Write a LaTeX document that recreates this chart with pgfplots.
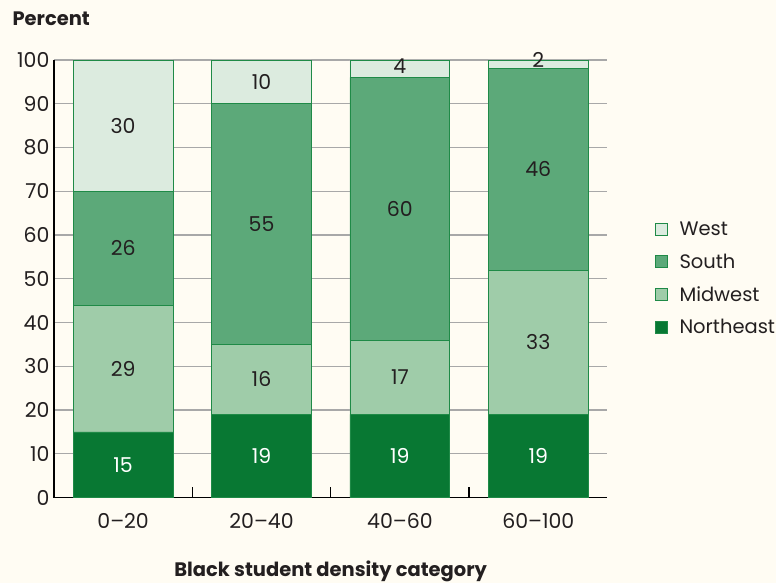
\documentclass[border=0pt]{standalone}
\usepackage{fontspec}
\setmainfont{Poppins}
\usepackage{pgfplots}
\pgfplotsset{compat=1.18}
\usepackage{pgfplotstable}

\definecolor{bg}{HTML}{FFFCF3}
\definecolor{west}{HTML}{DCEBDF}
\definecolor{south}{HTML}{5CA979}
\definecolor{midwest}{HTML}{9FCCA9}
\definecolor{northeast}{HTML}{087833}
\definecolor{edge}{HTML}{1F8A47}
\definecolor{txt}{HTML}{231F20}
\definecolor{gridc}{HTML}{A8A8A8}

% x = category index, one table per region
\pgfplotstableread{
x y
0 15
1 19
2 19
3 19
}\northeastdata
\pgfplotstableread{
x y
0 29
1 16
2 17
3 33
}\midwestdata
\pgfplotstableread{
x y
0 26
1 55
2 60
3 46
}\southdata
\pgfplotstableread{
x y
0 30
1 10
2 4
3 2
}\westdata

% label positions (segment centres)
\pgfplotstableread{
x y label
0 7.5 15
1 9.5 19
2 9.5 19
3 9.5 19
}\nelabels
\pgfplotstableread{
x y label
0 29.5 29
1 27 16
2 27.5 17
3 35.5 33
0 57 26
1 62.5 55
2 66 60
3 75 46
0 85 30
1 95 10
2 98.5 4
3 100 2
}\otherlabels

\begin{document}
\begin{tikzpicture}[font=\fontsize{19.5}{22}\selectfont, text=txt]
\fill[bg] (-54pt,-86pt) rectangle (723pt,498pt);
\pgfplotsset{
  base/.style={
    at={(0pt,0pt)}, anchor=south west,
    scale only axis, width=554pt, height=438pt,
    xmin=-0.5, xmax=3.5, ymin=0, ymax=100,
  }
}
\begin{axis}[base,
  ybar stacked, bar width=100pt,
  axis lines=left, axis line style={black, line width=1.6pt, -},
  ytick={0,10,...,100},
  ymajorgrids, grid style={gridc, line width=1.2pt},
  ytick style={draw=none},
  yticklabel style={xshift=-1pt, font=\fontsize{20.5}{22}\selectfont},
  xtick={0,1,2,3},
  xticklabels={0–20,20–40,40–60,60–100},
  major x tick style={draw=none},
  minor xtick={0.5,1.5,2.5},
  minor tick length=11pt,
  minor x tick style={black, line width=1.4pt},
  tick align=inside,
  xticklabel style={yshift=-12pt, font=\fontsize{20.5}{22}\selectfont},
  /pgf/number format/assume math mode=true,
  xlabel={\bfseries Black student density category},
  xlabel style={at={(0.5,0)}, anchor=center, yshift=-74pt},
  reverse legend,
  legend style={at={(1.085,0.634)}, anchor=north west, draw=none, fill=none,
    row sep=12.5pt, inner sep=0pt, font=\fontsize{19.5}{22}\selectfont},
  legend cell align=left,
  legend image code/.code={\draw[#1, line width=0.8pt] (0pt,-6pt) rectangle (12pt,6pt);},
]
\addplot[fill=northeast, draw=edge, line width=0.8pt] table {\northeastdata};
\addlegendentry{\hspace{10pt}Northeast}
\addplot[fill=midwest, draw=edge, line width=0.8pt] table {\midwestdata};
\addlegendentry{\hspace{10pt}Midwest}
\addplot[fill=south, draw=edge, line width=0.8pt] table {\southdata};
\addlegendentry{\hspace{10pt}South}
\addplot[fill=west, draw=edge, line width=0.8pt] table {\westdata};
\addlegendentry{\hspace{10pt}West}
\end{axis}
\begin{axis}[base, hide axis, clip=false]
\addplot[draw=none, nodes near coords, point meta=explicit symbolic,
  every node near coord/.style={anchor=center, text=white, font=\fontsize{20.5}{22}\selectfont}]
  table[meta=label] {\nelabels};
\addplot[draw=none, nodes near coords, point meta=explicit symbolic,
  every node near coord/.style={anchor=center, text=txt, font=\fontsize{20.5}{22}\selectfont}]
  table[meta=label] {\otherlabels};
\end{axis}
\node[anchor=west, font=\fontsize{19.5}{22}\selectfont\bfseries] at (-45pt,479pt) {Percent};
\end{tikzpicture}
\end{document}
